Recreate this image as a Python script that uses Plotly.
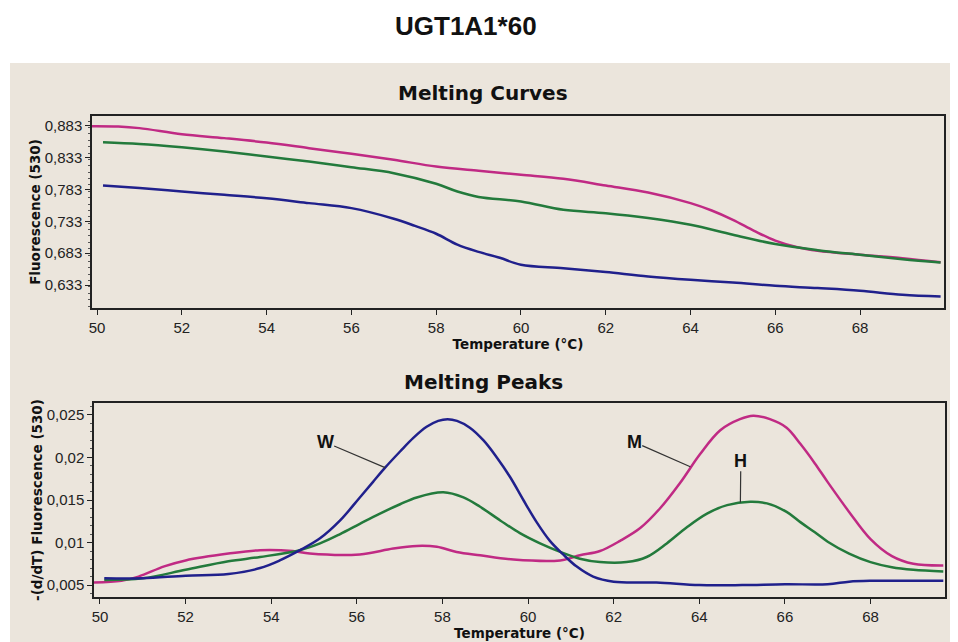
import plotly.graph_objects as go

# ---------------- data ----------------
title_text = "UGT1A1*60"

# Melting curves (top)
curve_pink_x = [49.88, 50.5, 51, 52, 53, 54, 55, 56, 57, 58, 59, 60, 61, 62, 63, 64, 64.5, 65, 65.5, 66, 66.5, 67, 68, 69, 69.9]
curve_pink_y = [0.882, 0.8815, 0.879, 0.8695, 0.8633, 0.8564, 0.8476, 0.8387, 0.8293, 0.8188, 0.812, 0.8058, 0.7995,
                0.789, 0.778, 0.7614, 0.7498, 0.7352, 0.718, 0.7025, 0.6925, 0.6866, 0.6804, 0.675, 0.6686]
curve_green_x = [50.14, 51, 52, 53, 54, 55, 56, 57, 58, 58.5, 59, 60, 61, 62, 63, 64, 65, 66, 67, 68, 69, 69.9]
curve_green_y = [0.857, 0.8543, 0.849, 0.8423, 0.8344, 0.8266, 0.8178, 0.8084, 0.7917, 0.7796, 0.771, 0.764, 0.751,
                 0.7457, 0.738, 0.7274, 0.7118, 0.6972, 0.6876, 0.6804, 0.6736, 0.6683]
curve_blue_x = [50.14, 51, 52, 53, 54, 55, 56, 57, 57.5, 58, 58.5, 59, 59.5, 60, 61, 62, 63, 64, 65, 66, 67, 68, 69, 69.9]
curve_blue_y = [0.789, 0.785, 0.7796, 0.7744, 0.769, 0.7614, 0.7536, 0.737, 0.7257, 0.7134, 0.6964, 0.685, 0.6757,
                0.6648, 0.6595, 0.6533, 0.6464, 0.6412, 0.637, 0.6318, 0.6282, 0.624, 0.6177, 0.615]

# Melting peaks (bottom)
peak_blue_x = [50.1, 51, 52, 53, 53.74, 54.2, 54.67, 55.14, 55.61, 56.07, 56.39, 56.66, 57.01, 57.32, 57.63, 57.9,
               58.12, 58.34, 58.64, 58.96, 59.27, 59.58, 59.89, 60.2, 60.51, 60.82, 61.13, 61.52, 62, 63, 64, 65, 66,
               67, 67.5, 68, 69, 69.7]
peak_blue_y = [0.0058, 0.0058, 0.0061, 0.0063, 0.0070, 0.0079, 0.0091, 0.0105, 0.0126, 0.0153, 0.0172, 0.0188, 0.0207,
               0.0223, 0.0236, 0.0243, 0.0245, 0.0243, 0.0235, 0.0220, 0.0200, 0.0177, 0.0150, 0.0124, 0.0102, 0.0086,
               0.0072, 0.0060, 0.0054, 0.0053, 0.0050, 0.0050, 0.0051, 0.0051, 0.0054, 0.0055, 0.0055, 0.0055]
peak_pink_x = [49.86, 50.5, 50.9, 51.5, 52, 53, 53.74, 54.5, 54.9, 56.07, 56.85, 57.4, 57.87, 58.33, 58.88, 59.66,
               60.75, 61.21, 61.68, 62.15, 62.62, 63.08, 63.55, 64.02, 64.49, 64.95, 65.26, 65.65, 66.04, 66.36, 66.7,
               67, 67.5, 68, 68.5, 69, 69.7]
peak_pink_y = [0.0053, 0.0055, 0.0060, 0.0072, 0.0079, 0.0087, 0.0091, 0.0090, 0.0087, 0.0086, 0.0093, 0.0096, 0.0095,
               0.0089, 0.0085, 0.0080, 0.0079, 0.0085, 0.0090, 0.0102, 0.0117, 0.0140, 0.0170, 0.0204, 0.0232, 0.0245,
               0.0249, 0.0245, 0.0235, 0.0216, 0.0193, 0.0171, 0.0136, 0.0104, 0.0084, 0.0075, 0.0073]
peak_green_x = [50.1, 51, 52, 53, 53.74, 54.67, 55.14, 55.61, 56.07, 56.54, 57.01, 57.4, 58.02, 58.49, 58.88, 59.35,
                59.81, 60.28, 60.75, 61.21, 61.68, 62.3, 62.77, 63.24, 63.71, 64.18, 64.65, 65.19, 65.58, 66.04, 66.36,
                66.7, 67, 67.5, 68, 68.5, 69, 69.7]
peak_green_y = [0.0056, 0.0058, 0.0068, 0.0078, 0.0083, 0.0091, 0.0099, 0.0110, 0.0122, 0.0134, 0.0145, 0.0153, 0.0159,
                0.0153, 0.0142, 0.0126, 0.0111, 0.0099, 0.0089, 0.0081, 0.0077, 0.0077, 0.0083, 0.0099, 0.0118, 0.0134,
                0.0144, 0.0148, 0.0146, 0.0136, 0.0124, 0.0112, 0.0101, 0.0087, 0.0077, 0.0071, 0.0068, 0.0066]

x_ticks = [50, 52, 54, 56, 58, 60, 62, 64, 66, 68]
top_y_ticks = [0.633, 0.683, 0.733, 0.783, 0.833, 0.883]
top_y_labels = ["0,633", "0,683", "0,733", "0,783", "0,833", "0,883"]
bot_y_ticks = [0.005, 0.01, 0.015, 0.02, 0.025]
bot_y_labels = ["0,005", "0,01", "0,015", "0,02", "0,025"]

# peak labels: (text, label x, label y, curve x, curve y)
peak_labels = [("W", 55.26, 0.0218, 56.66, 0.0188),
               ("M", 62.48, 0.0218, 63.79, 0.0189),
               ("H", 64.97, 0.0196, 64.96, 0.0147)]

PINK = "#c02a84"
GREEN = "#237a3c"
BLUE = "#20208c"
BEIGE = "#ebe5dc"
BOLD = "DejaVu Sans"

# page body has an 8px margin; figure is sized/placed so page pixels match the reference
OFF = 8
W, H = 958 - OFF, 642 - OFF

fig = go.Figure()
for xs, ys, c in [(curve_pink_x, curve_pink_y, PINK), (curve_green_x, curve_green_y, GREEN),
                  (curve_blue_x, curve_blue_y, BLUE)]:
    fig.add_trace(go.Scatter(x=xs, y=ys, mode="lines", line=dict(color=c, width=2.5, shape="spline", smoothing=1.0),
                             xaxis="x", yaxis="y", showlegend=False, hoverinfo="skip"))
for xs, ys, c in [(peak_pink_x, peak_pink_y, PINK), (peak_green_x, peak_green_y, GREEN),
                  (peak_blue_x, peak_blue_y, BLUE)]:
    fig.add_trace(go.Scatter(x=xs, y=ys, mode="lines", line=dict(color=c, width=2.5, shape="spline", smoothing=1.0),
                             xaxis="x2", yaxis="y2", showlegend=False, hoverinfo="skip"))


def px(v):
    return (v - OFF) / W


def py(v):
    return 1 - (v - OFF) / H


axis_common = dict(showline=True, linecolor="#222", linewidth=1.5, mirror=True, ticks="outside", ticklen=5,
                   tickcolor="#222", showgrid=False, zeroline=False, automargin=False,
                   tickfont=dict(family="Liberation Sans, Arial", size=15, color="#222"))

title_font = dict(family=BOLD, size=13.5, color="#111", weight="bold")

fig.update_layout(
    width=W, height=H, margin=dict(l=0, r=0, t=0, b=0),
    paper_bgcolor="white", plot_bgcolor="white",
    xaxis=dict(domain=[px(92), px(944)], range=[49.88, 69.98], tickvals=x_ticks, anchor="y",
               title=dict(text="Temperature (°C)", font=title_font, standoff=4), **axis_common),
    yaxis=dict(domain=[py(308), py(116)], range=[0.597, 0.898], tickvals=top_y_ticks, ticktext=top_y_labels,
               anchor="x", title=dict(text="Fluorescence (530)", font=title_font, standoff=1),
               minor=dict(ticks="outside", ticklen=2, dtick=0.01, tickcolor="#555"), **axis_common),
    xaxis2=dict(domain=[px(94), px(945)], range=[49.86, 69.74], tickvals=x_ticks, anchor="y2",
                title=dict(text="Temperature (°C)", font=title_font, standoff=4), **axis_common),
    yaxis2=dict(domain=[py(597), py(403)], range=[0.0036, 0.0264], tickvals=bot_y_ticks, ticktext=bot_y_labels,
                anchor="x2", title=dict(text="-(d/dT) Fluorescence (530)", font=title_font, standoff=1),
                minor=dict(ticks="outside", ticklen=2, dtick=0.001, tickcolor="#555"), **axis_common),
    shapes=[dict(type="rect", xref="paper", yref="paper", x0=px(10), x1=1, y0=0, y1=py(63),
                 fillcolor=BEIGE, line=dict(width=0), layer="below")],
)

annotations = [
    dict(text="<b>" + title_text + "</b>", x=px(466), y=py(26), xref="paper", yref="paper", showarrow=False,
         xanchor="center", yanchor="middle",
         font=dict(family="Liberation Sans, Arial", size=26, color="#111")),
    dict(text="<b>Melting Curves</b>", x=px(483), y=py(93), xref="paper", yref="paper", showarrow=False,
         xanchor="center", yanchor="middle",
         font=dict(family=BOLD, size=20, color="#111")),
    dict(text="<b>Melting Peaks</b>", x=px(483), y=py(382), xref="paper", yref="paper", showarrow=False,
         xanchor="center", yanchor="middle",
         font=dict(family=BOLD, size=20, color="#111")),
]
for txt, lx, ly, cx, cy in peak_labels:
    annotations.append(dict(text="<b>" + txt + "</b>", x=cx, y=cy, ax=lx, ay=ly, xref="x2", yref="y2",
                            axref="x2", ayref="y2", showarrow=True, arrowhead=0, arrowwidth=1.2,
                            arrowcolor="#333", standoff=0, borderpad=0,
                            font=dict(family="Liberation Sans, Arial", size=18, color="#111")))
fig.update_layout(annotations=annotations)

fig.write_html("out.html")
